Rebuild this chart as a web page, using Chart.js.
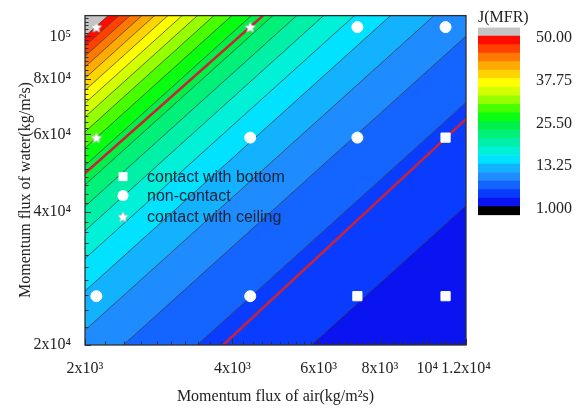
<!DOCTYPE html>
<html>
<head>
<meta charset="utf-8">
<script src="https://cdn.jsdelivr.net/npm/chart.js@4.4.1/dist/chart.umd.min.js"></script>
<style>
    html, body { margin: 0; padding: 0; background: #fff; }
    #wrap { position: relative; width: 581px; height: 409px; overflow: hidden; }
    #main { position: absolute; left: 0; top: 0; }
    #bar { position: absolute; left: 470px; top: 0; }
    #jtitle { position: absolute; left: 478px; top: 9px; font: 16px "Liberation Serif", serif; line-height: 16px; color: #222; }
    #ytitle { position: absolute; left: -125px; top: 181px; width: 300px; text-align: center;
              font: 16px "Liberation Serif", serif; line-height: 18px; color: #222; transform: rotate(-90deg); }
</style>
</head>
<body>
<div id="wrap">
    <canvas id="main" width="581" height="409"></canvas>
    <canvas id="bar" width="111" height="409"></canvas>
    <div id="jtitle">J(MFR)</div>
    <div id="ytitle">Momentum flux of water(kg/m²s)</div>
</div>
<script>
// Axis ticks
const xTicks = [2000, 4000, 6000, 8000, 10000, 12000];
const xTickLabels = ['2x10³', '4x10³', '6x10³', '8x10³', '10⁴', '1.2x10⁴'];
const yTicks = [20000, 40000, 60000, 80000, 100000];
const yTickLabels = ['2x10⁴', '4x10⁴', '6x10⁴', '8x10⁴', '10⁵'];

// Contour levels of J (MFR) and the colour of each band (low -> high)
const levels = [1, 3.45, 5.9, 8.35, 10.8, 13.25, 15.7, 18.15, 20.6, 23.05, 25.5,
                27.95, 30.4, 32.85, 35.3, 37.75, 40.2, 42.65, 45.1, 47.55, 50];
const bandColors = ['#0a14f0', '#0a3cff', '#1464ff', '#1e8cff', '#12b2ff', '#00e2ff', '#00f0d8',
                    '#00f0a8', '#00f078', '#00f048', '#08ff10', '#48ff00', '#96ff00', '#d4ff00',
                    '#ffff00', '#ffd400', '#ffaa00', '#ff7800', '#ff4000', '#ff0a00'];
const overColor = '#c4c4c4';
const underColor = '#000000';
const barTicks = [1, 13.25, 25.5, 37.75, 50];
const barTickLabels = ['1.000', '13.25', '25.50', '37.75', '50.00'];

// Contour lines: water flux (y) at these air fluxes (x), one row per level
const contourX = [2000, 3000, 4500, 7000, 12000];
const contourLines = [
    [2000, 3000, 4500, 7000, 12000],
    [6900, 10350, 15525, 24150, 41400],
    [11800, 17700, 26550, 41300, 70800],
    [16700, 25050, 37575, 58450, 100200],
    [21600, 32400, 48600, 75600, 129600],
    [26500, 39750, 59625, 92750, 159000],
    [31400, 47100, 70650, 109900, 188400],
    [36300, 54450, 81675, 127050, 217800],
    [41200, 61800, 92700, 144200, 247200],
    [46100, 69150, 103725, 161350, 276600],
    [51000, 76500, 114750, 178500, 306000],
    [55900, 83850, 125775, 195650, 335400],
    [60800, 91200, 136800, 212800, 364800],
    [65700, 98550, 147825, 229950, 394200],
    [70600, 105900, 158850, 247100, 423600],
    [75500, 113250, 169875, 264250, 453000],
    [80400, 120600, 180900, 281400, 482400],
    [85300, 127950, 191925, 298550, 511800],
    [90200, 135300, 202950, 315700, 541200],
    [95100, 142650, 213975, 332850, 570600],
    [100000, 150000, 225000, 350000, 600000]
];

// Regime boundaries (red lines)
const ceilingLineX = [2000, 4620];
const ceilingLineY = [49000, 111500];
const bottomLineX = [3830, 12000];
const bottomLineY = [20000, 65000];

// Experiment points
const bottomX = [10900, 7200, 10900];
const bottomY = [59000, 25800, 25800];
const noContactX = [7200, 10900, 4350, 7200, 2110, 4350];
const noContactY = [105000, 105000, 59000, 59000, 25800, 25800];
const ceilingX = [2110, 4350, 2110];
const ceilingY = [105000, 105000, 59000];

const legendNames = ['contact with bottom', 'non-contact', 'contact with ceiling'];

const toPoints = (xs, ys) => xs.map((x, i) => ({x: x, y: ys[i]}));

// white five point star used as a marker
function makeStar(size) {
    const c = document.createElement('canvas');
    c.width = size;
    c.height = size;
    const g = c.getContext('2d');
    g.beginPath();
    for (let i = 0; i < 10; i++) {
        const r = i % 2 === 0 ? size / 2 - 0.5 : size / 4.4;
        const a = -Math.PI / 2 + i * Math.PI / 5;
        g.lineTo(size / 2 + r * Math.cos(a), size / 2 + 0.6 + r * Math.sin(a));
    }
    g.closePath();
    g.fillStyle = '#fff';
    g.fill();
    g.strokeStyle = '#bdbdbd';
    g.lineWidth = 0.8;
    g.stroke();
    return c;
}
const star = makeStar(12);

const contourDatasets = levels.map((lv, i) => ({
    label: 'J=' + lv,
    data: toPoints(contourX, contourLines[i]),
    showLine: true,
    pointRadius: 0,
    borderWidth: i === 0 ? 0 : 0.8,
    borderColor: 'rgba(30,30,30,0.8)',
    backgroundColor: i === 0 ? underColor : bandColors[i - 1],
    fill: i === 0 ? false : '-1',
}));
// everything above the last level is grey
contourDatasets.push({
    label: 'over',
    data: toPoints(contourX, contourLines[contourLines.length - 1]),
    showLine: true,
    pointRadius: 0,
    borderWidth: 0,
    backgroundColor: overColor,
    fill: 'end',
});

const markerSets = [
    {label: legendNames[0], data: toPoints(bottomX, bottomY), pointStyle: 'rect', pointRadius: 6.5},
    {label: legendNames[1], data: toPoints(noContactX, noContactY), pointStyle: 'circle', pointRadius: 5.5},
    {label: legendNames[2], data: toPoints(ceilingX, ceilingY), pointStyle: star, pointRadius: 6},
].map((d) => Object.assign(d, {
    showLine: false, backgroundColor: '#fff', borderColor: '#fff', borderWidth: 1, order: -2,
}));

const redLines = [
    {label: 'ceiling boundary', data: toPoints(ceilingLineX, ceilingLineY)},
    {label: 'bottom boundary', data: toPoints(bottomLineX, bottomLineY)},
].map((d) => Object.assign(d, {
    showLine: true, pointRadius: 0, borderColor: '#cc2236', borderWidth: 2.5, fill: false, order: -1,
}));

// frame with inward ticks, drawn over the contours
const frameTicks = {
    id: 'frameTicks',
    afterDatasetsDraw(chart) {
        const {ctx, chartArea: a, scales: {x, y}} = chart;
        ctx.save();
        ctx.strokeStyle = '#2e2e2e';
        ctx.lineWidth = 1;
        ctx.beginPath();
        for (let v = 2000; v <= 12000; v += 200) {
            const px = Math.round(x.getPixelForValue(v)) + 0.5;
            const len = xTicks.includes(v) ? 6 : 3.5;
            ctx.moveTo(px, a.bottom);
            ctx.lineTo(px, a.bottom - len);
        }
        for (let v = 20000; v <= 110000; v += 2000) {
            const py = Math.round(y.getPixelForValue(v)) + 0.5;
            const len = yTicks.includes(v) ? 6 : 3.5;
            ctx.moveTo(a.left, py);
            ctx.lineTo(a.left + len, py);
        }
        ctx.stroke();
        ctx.lineWidth = 1.3;
        ctx.strokeRect(a.left, a.top, a.right - a.left, a.bottom - a.top);
        ctx.restore();
    }
};

// legend inside the plot
const insideLegend = {
    id: 'insideLegend',
    afterDatasetsDraw(chart) {
        const {ctx, chartArea: a} = chart;
        const lx = a.left + 38;
        const rows = [a.top + 161, a.top + 180, a.top + 201];
        ctx.save();
        ctx.fillStyle = '#fff';
        ctx.fillRect(lx - 4.5, rows[0] - 4.5, 9, 9);
        ctx.beginPath();
        ctx.arc(lx, rows[1], 5.5, 0, Math.PI * 2);
        ctx.fill();
        ctx.drawImage(star, lx - 6, rows[2] - 6);
        ctx.fillStyle = '#1b2238';
        ctx.font = '16px "Liberation Sans", Arial, sans-serif';
        ctx.textBaseline = 'middle';
        legendNames.forEach((t, i) => ctx.fillText(t, lx + 24, rows[i] + 1));
        ctx.restore();
    }
};

const serif = '"Liberation Serif", "Times New Roman", serif';

new Chart(document.getElementById('main'), {
    type: 'line',
    data: {datasets: [...contourDatasets, ...redLines, ...markerSets]},
    options: {
        responsive: false,
        animation: false,
        events: [],
        layout: {padding: {left: 0, right: 115, top: 14, bottom: 0}},
        elements: {line: {tension: 0}},
        plugins: {
            legend: {display: false},
            tooltip: {enabled: false},
            filler: {drawTime: 'beforeDatasetsDraw'},
        },
        scales: {
            x: {
                type: 'logarithmic',
                min: 2000,
                max: 12000,
                afterBuildTicks: (s) => { s.ticks = xTicks.map((v) => ({value: v})); },
                afterFit: (s) => { s.height = 64; },
                grid: {display: false},
                border: {display: false},
                ticks: {
                    autoSkip: false, maxRotation: 0, padding: 6, color: '#222',
                    font: {family: serif, size: 16},
                    callback: (v, i) => xTickLabels[i],
                },
                title: {
                    display: true, text: 'Momentum flux of air(kg/m²s)', color: '#222',
                    font: {family: serif, size: 16}, padding: {top: 0, bottom: 3},
                },
            },
            y: {
                type: 'logarithmic',
                min: 20000,
                max: 111500,
                afterBuildTicks: (s) => { s.ticks = yTicks.map((v) => ({value: v})); },
                afterFit: (s) => { s.width = 85; },
                grid: {display: false},
                border: {display: false},
                ticks: {
                    autoSkip: false, padding: 6, color: '#222',
                    font: {family: serif, size: 16},
                    callback: (v, i) => yTickLabels[i],
                },
            },
        },
    },
    plugins: [frameTicks, insideLegend],
});

// colour bar: one floating bar per band
const barBands = [[levels[0] - 2.45, levels[0], underColor]];
bandColors.forEach((c, i) => barBands.push([levels[i], levels[i + 1], c]));
barBands.push([levels[levels.length - 1], levels[levels.length - 1] + 2.45, overColor]);

new Chart(document.getElementById('bar'), {
    type: 'bar',
    data: {
        labels: [''],
        datasets: barBands.map((b) => ({
            data: [[b[0], b[1]]],
            backgroundColor: b[2],
            borderWidth: 0,
            grouped: false,
            barPercentage: 1,
            categoryPercentage: 1,
        })),
    },
    options: {
        responsive: false,
        animation: false,
        events: [],
        layout: {padding: {left: 8, top: 27.5, bottom: 193.8, right: 0}},
        plugins: {legend: {display: false}, tooltip: {enabled: false}},
        scales: {
            x: {display: false},
            y: {
                position: 'right',
                min: -1.45,
                max: 52.45,
                afterBuildTicks: (s) => { s.ticks = barTicks.map((v) => ({value: v})); },
                afterFit: (s) => { s.width = 61; },
                grid: {display: false},
                border: {display: false},
                ticks: {
                    padding: 8, color: '#222', labelOffset: 2,
                    font: {family: serif, size: 16},
                    callback: (v, i) => barTickLabels[i],
                },
            },
        },
    },
});
</script>
</body>
</html>
